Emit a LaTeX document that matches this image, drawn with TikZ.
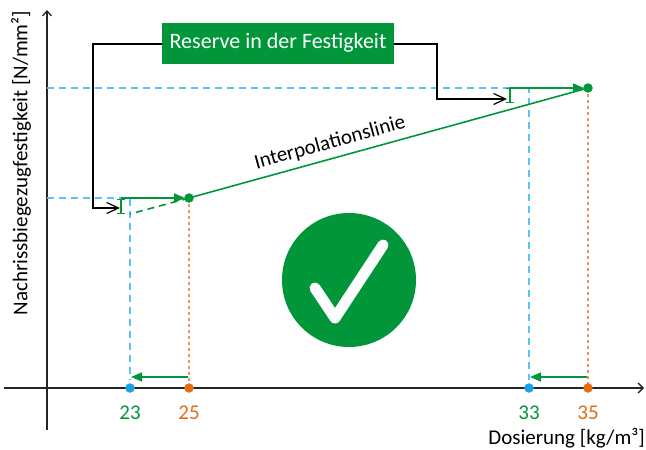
\documentclass[tikz,border=0pt]{standalone}
\usepackage{fontspec}
\setmainfont{Carlito}
\usetikzlibrary{arrows.meta}
\definecolor{gr}{RGB}{0,150,57}
\definecolor{bl}{RGB}{90,195,240}
\definecolor{bdot}{RGB}{30,160,230}
\definecolor{org}{RGB}{228,108,20}
\definecolor{lorg}{RGB}{240,150,90}
\tikzset{
  axisline/.style={line width=1.3pt, black!85},
  blk/.style={line width=1.2pt, black, -{Straight Barb[length=12pt,width=11pt]}},
  bldash/.style={bl, line width=1.3pt, dash pattern=on 7pt off 5pt},
  orgdot/.style={lorg, line width=1.3pt, dash pattern=on 3pt off 3pt},
  grline/.style={gr, line width=1.6pt},
  grarrow/.style={gr, line width=1.6pt, -{Triangle[length=11pt,width=9pt]}},
  errbar/.style={gr, line width=1.3pt, {Bar[width=8pt]}-{Bar[width=8pt]}},
  dot/.style={circle, fill=#1, inner sep=0pt, minimum size=9.5pt},
  lbl/.style={font=\fontsize{21}{24}\selectfont, inner sep=1pt}
}
\begin{document}
\begin{tikzpicture}[x=1pt,y=-1pt]
\useasboundingbox (0,0) rectangle (646,450);
% axes
\coordinate (xs) at (4,388);
\coordinate (xe) at (644,388);
\coordinate (ys) at (47,430);
\coordinate (ye) at (47,10);
\draw[axisline,-{Straight Barb[length=5pt,width=10pt]}] (xs) -- (xe);
\draw[axisline,-{Straight Barb[length=5pt,width=9pt]}] (ys) -- (ye);
\node[lbl, anchor=east] (xl) at (646,438) {Dosierung [kg/m³]};
\node[lbl, rotate=90] (yl) at (21,163) {Nachrissbiegezugfestigkeit [N/mm²]};
% points
\coordinate (P25) at (189,198);
\coordinate (P35) at (588,88);
\coordinate (L23) at (130,198);
\coordinate (L33) at (529,88);
\coordinate (D23) at (130,214);
\coordinate (A23) at (130,380);
\coordinate (A33) at (529,380);
\coordinate (Y1) at (47,198);
\coordinate (Y2) at (47,88);
% blue dashed guides
\draw[bldash] (Y1) -- (L23) -- (A23);
\draw[bldash] (Y2) -- (L33) -- (A33);
% orange dotted
\coordinate (O25) at (189,388);
\coordinate (O35) at (588,388);
\draw[orgdot] (P25) -- (O25);
\draw[orgdot] (P35) -- (O35);
% interpolation line
\draw[grline] (P25) -- (P35);
\draw[grline, dash pattern=on 7pt off 5pt] (P25) -- (D23);
\node[lbl, rotate=15.4] (il) at (330,143) {Interpolationslinie};
% green horizontal arrows
\coordinate (G1s) at (121,198);
\coordinate (G2s) at (509,88);
\draw[grarrow, shorten >=4pt] (G1s) -- (P25);
\draw[grarrow, shorten >=4pt] (G2s) -- (P35);
% error bars
\coordinate (E1a) at (121,199);
\coordinate (E1b) at (121,214);
\coordinate (E2a) at (510,88);
\coordinate (E2b) at (510,103);
\draw[errbar] (E1a) -- (E1b);
\draw[errbar] (E2a) -- (E2b);
% bottom arrows
\coordinate (B25) at (188,377);
\coordinate (B23) at (131,377);
\coordinate (B35) at (587,377);
\coordinate (B33) at (530,377);
\draw[grarrow] (B25) -- (B23);
\draw[grarrow] (B35) -- (B33);
% dots
\node[dot=gr] (d25) at (P25) {};
\node[dot=gr] (d35) at (P35) {};
\node[dot=bdot] (x23) at (130,388) {};
\node[dot=org] (x25) at (189,388) {};
\node[dot=bdot] (x33) at (529,388) {};
\node[dot=org] (x35) at (588,388) {};
% tick labels
\node[lbl, text=gr] (t23) at (130,413) {23};
\node[lbl, text=org] (t25) at (189,413) {25};
\node[lbl, text=gr] (t33) at (529,413) {33};
\node[lbl, text=org] (t35) at (588,413) {35};
% reserve box and brackets
\node[fill=gr, text=white, minimum width=232pt, minimum height=41pt, inner sep=0pt,
      font=\fontsize{22}{25}\selectfont] (box) at (278,43) {Reserve in der Festigkeit};
\coordinate (K1) at (93,44);
\coordinate (AL) at (120,208);
\coordinate (K2) at (437,44);
\coordinate (AR) at (507,99);
\draw[blk] (box.west |- K1) -- (K1) |- (AL);
\draw[blk] (box.east |- K2) -- (K2) |- (AR);
% check circle
\node[circle, fill=gr, minimum size=134pt, inner sep=0pt] (chk) at (349,280) {};
\draw[white, line width=11pt, line cap=round, line join=round]
  ([shift={(-34,8)}]chk.center) -- ([shift={(-14,38)}]chk.center) -- ([shift={(34,-35)}]chk.center);
\end{tikzpicture}
\end{document}
